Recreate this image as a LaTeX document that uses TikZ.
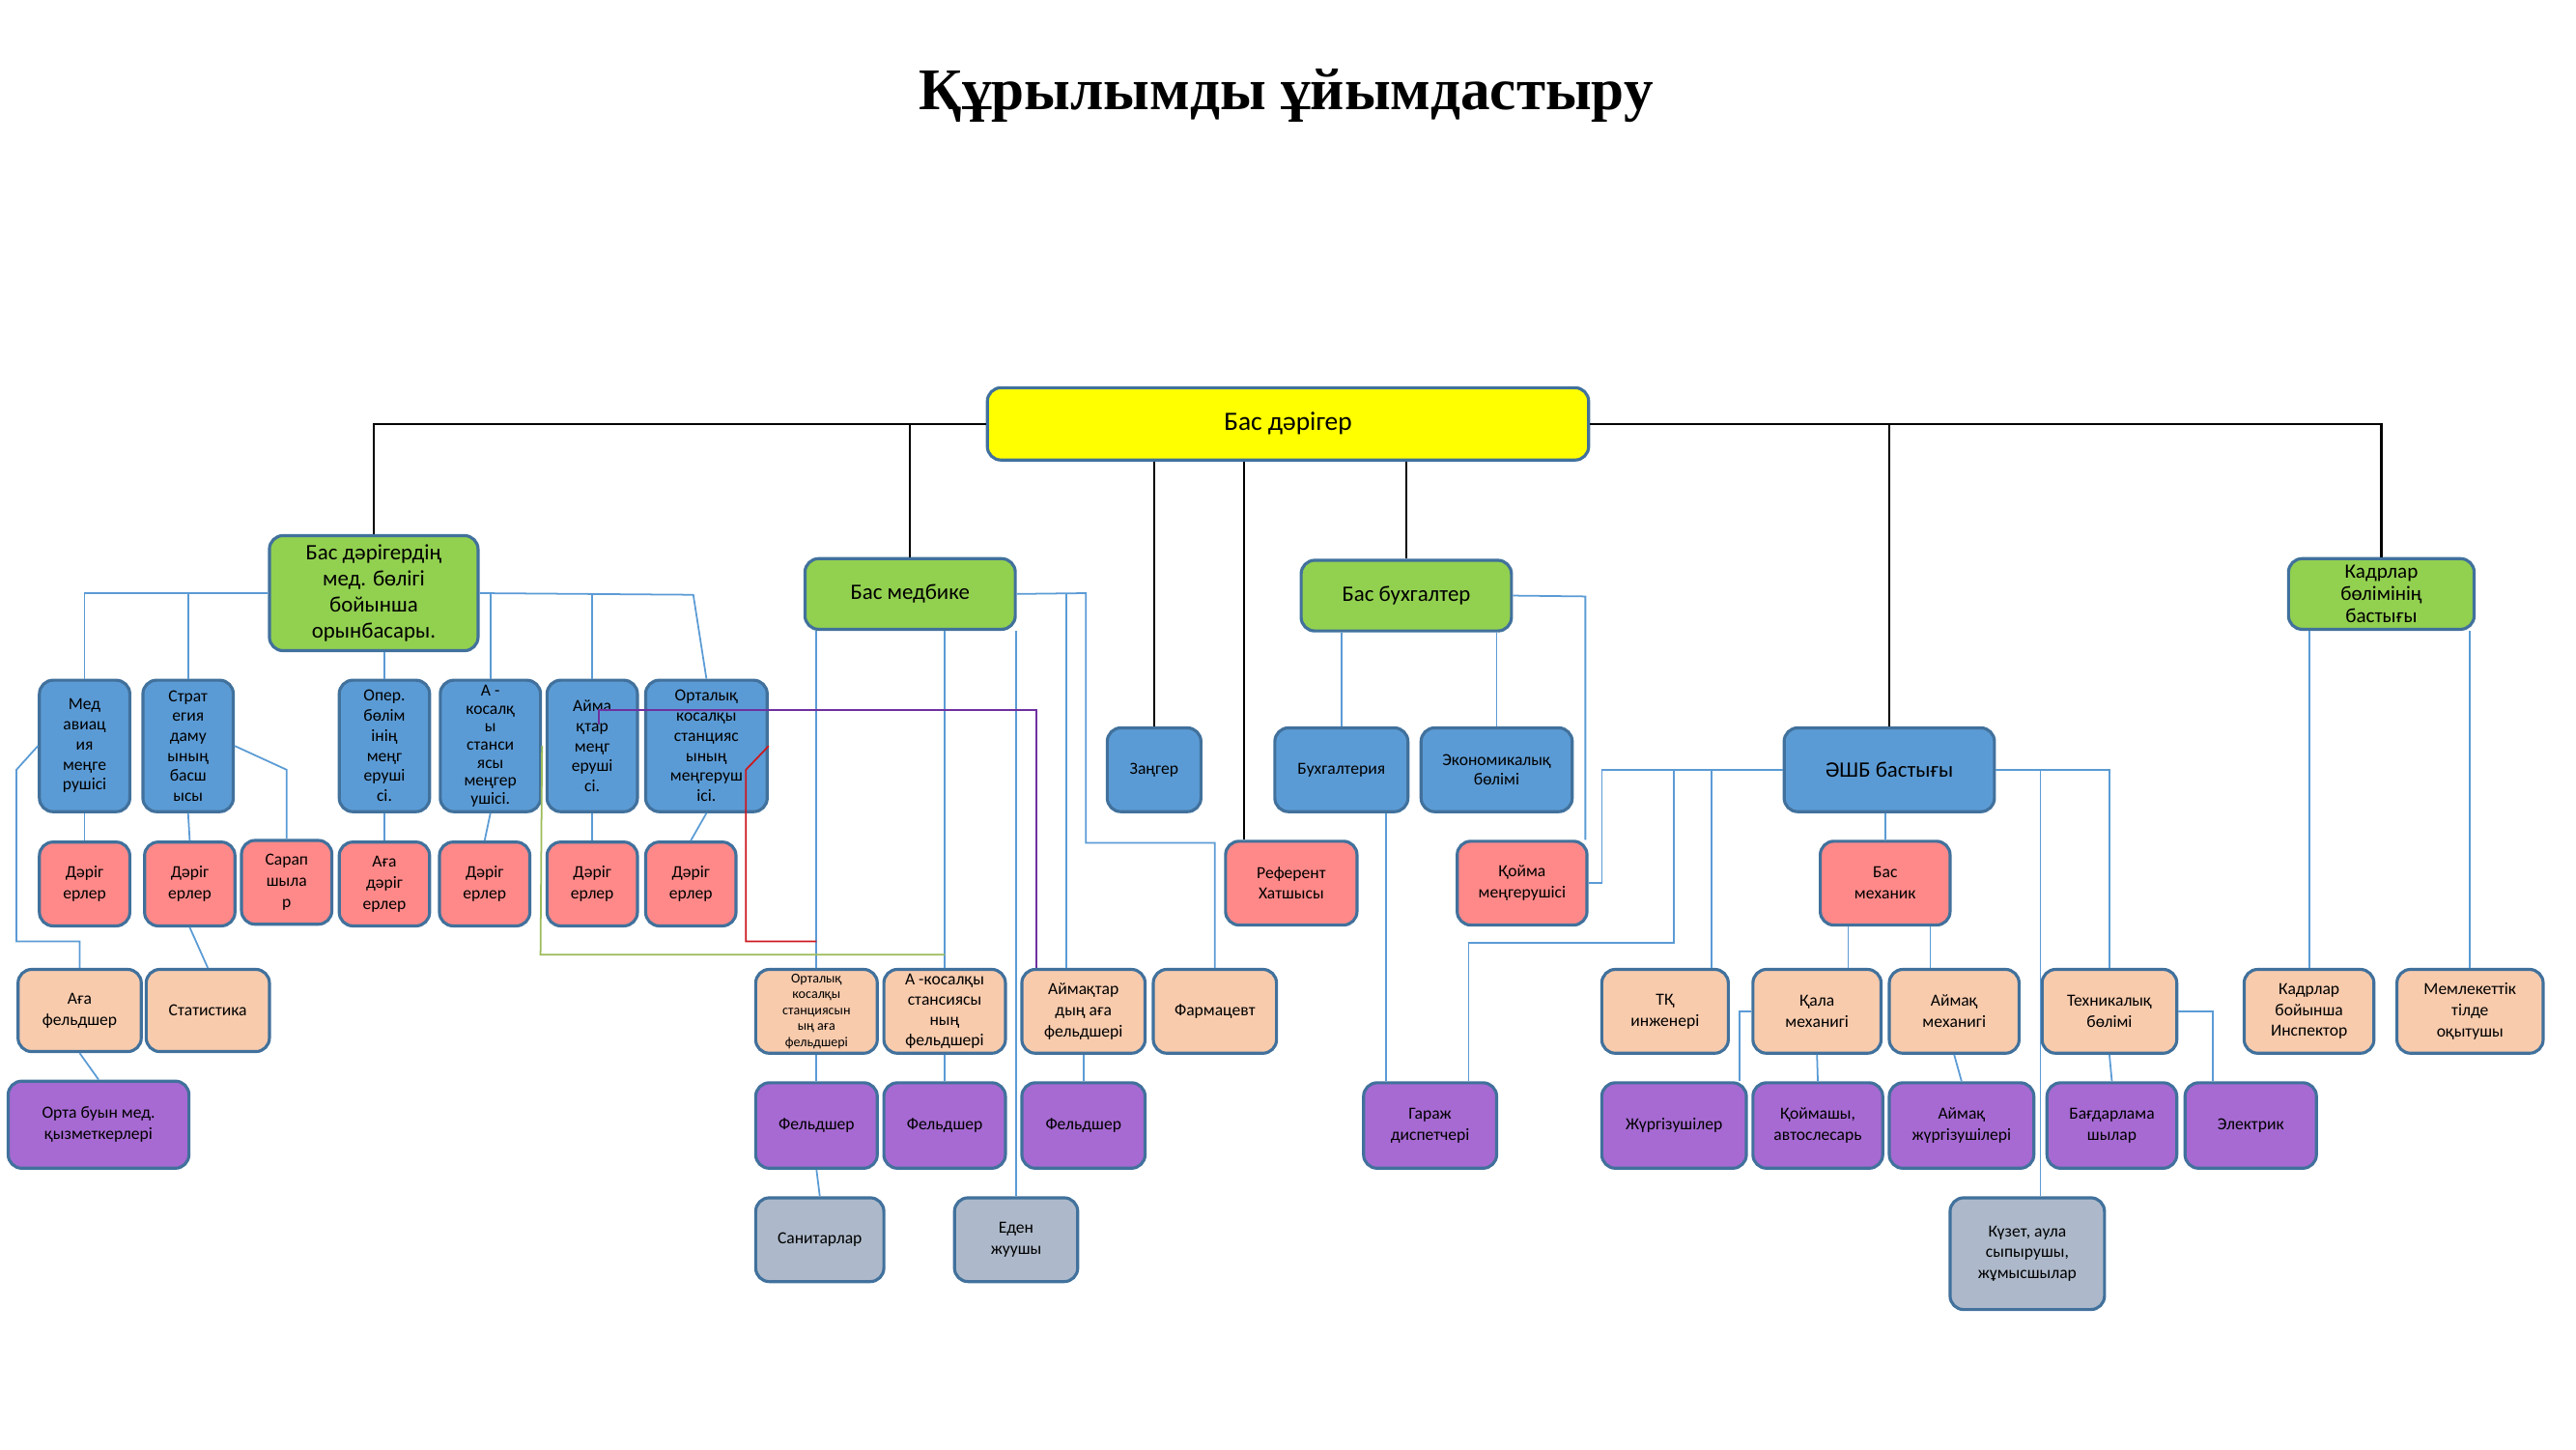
\documentclass[tikz,border=0pt]{standalone}
\usepackage{fontspec}
\setmainfont{Carlito}
\newfontfamily\titlefont{Liberation Serif}
\usetikzlibrary{positioning}
\definecolor{ChiefYellow}{RGB}{255,255,0}
\definecolor{HeadGreen}{RGB}{146,208,80}
\definecolor{UnitBlue}{RGB}{91,155,213}
\definecolor{StaffRed}{RGB}{255,137,137}
\definecolor{StaffPeach}{RGB}{248,203,173}
\definecolor{StaffPurple}{RGB}{166,106,210}
\definecolor{AuxGrey}{RGB}{173,185,202}
\definecolor{BoxEdge}{RGB}{65,113,156}
\definecolor{LinkBlue}{RGB}{91,155,213}
\definecolor{LinkPurple}{RGB}{112,48,160}
\definecolor{LinkRed}{RGB}{204,24,30}
\definecolor{LinkGreen}{RGB}{155,187,89}
\newcommand{\pxu}{0.01701cm}

\begin{document}
\begin{tikzpicture}[x=\pxu, y=-\pxu,
    orgbox/.style={draw=BoxEdge, line width=0.9pt, rounded corners=4pt, align=center, inner sep=0.5pt, text=black},
    boxsize/.style 2 args={minimum width=#1*\pxu, minimum height=#2*\pxu},
    chiefnode/.style={orgbox, fill=ChiefYellow, font=\fontsize{7.8}{9}\selectfont},
    headnode/.style={orgbox, fill=HeadGreen, font=\fontsize{6.5}{7.6}\selectfont},
    unitnode/.style={orgbox, fill=UnitBlue, font=\fontsize{5}{5.9}\selectfont},
    rednode/.style={orgbox, fill=StaffRed, font=\fontsize{5}{6.2}\selectfont},
    peachnode/.style={orgbox, fill=StaffPeach, font=\fontsize{5}{6.2}\selectfont},
    purplenode/.style={orgbox, fill=StaffPurple, font=\fontsize{5}{6.2}\selectfont},
    greynode/.style={orgbox, fill=AuxGrey, font=\fontsize{5}{6.2}\selectfont},
    chiefline/.style={draw=black, line width=0.6pt},
    link/.style={draw=LinkBlue, line width=0.5pt}]
    \useasboundingbox (0,0) rectangle (1568,882);

    % Title
    \node[font=\fontsize{17.4}{21}\selectfont\titlefont\bfseries] (title) at (783,58) {Құрылымды ұйымдастыру};

    % Top
    \node[chiefnode, boxsize={366}{44}] (chief) at (784,258) {Бас дәрігер};

    % Second level
    \node[headnode, boxsize={127}{70}] (zam) at (227.5,361) {Бас дәрігердің\\мед. бөлігі\\бойынша\\орынбасары.};
    \node[headnode, boxsize={128}{43}] (medb) at (554,361.5) {Бас медбике};
    \node[headnode, boxsize={128}{43}] (bbuh) at (856,362.5) {Бас бухгалтер};
    \node[headnode, boxsize={113}{43}, font=\fontsize{6}{6.6}\selectfont] (kadr) at (1449.5,361.5) {Кадрлар\\бөлімінің\\бастығы};

    % Medical units
    \node[unitnode, boxsize={55}{80}] (medav) at (51.5,454) {Мед\\авиац\\ия\\меңге\\рушісі};
    \node[unitnode, boxsize={55}{80}] (strat) at (114.5,454) {Страт\\егия\\даму\\ының\\басш\\ысы};
    \node[unitnode, boxsize={55}{80}] (oper) at (234,454) {Опер.\\бөлім\\інің\\меңг\\еруші\\сі.};
    \node[unitnode, boxsize={61}{80}, font=\fontsize{5}{5.3}\selectfont] (akos) at (298.5,454) {А -\\косалқ\\ы\\станси\\ясы\\меңгер\\ушісі.};
    \node[unitnode, boxsize={55}{80}] (aim) at (360.5,454) {Айма\\қтар\\меңг\\еруші\\сі.};
    \node[unitnode, boxsize={74}{80}] (orth) at (430,454) {Орталық\\косалқы\\станцияс\\ының\\меңгеруш\\ісі.};

    \node[rednode, boxsize={55}{51}] (dr1) at (51.5,538) {Дәріг\\ерлер};
    \node[rednode, boxsize={55}{51}] (dr2) at (115.5,538) {Дәріг\\ерлер};
    \node[rednode, boxsize={55}{51}] (sarap) at (174.5,537) {Сарап\\шыла\\р};
    \node[rednode, boxsize={55}{51}] (agadr) at (234,538) {Аға\\дәріг\\ерлер};
    \node[rednode, boxsize={55}{51}] (dr3) at (295,538) {Дәріг\\ерлер};
    \node[rednode, boxsize={55}{51}] (dr4) at (360.5,538) {Дәріг\\ерлер};
    \node[rednode, boxsize={55}{51}] (dr5) at (420.5,538) {Дәріг\\ерлер};

    \node[peachnode, boxsize={75}{50}] (agaf) at (48.5,615) {Аға\\фельдшер};
    \node[peachnode, boxsize={75}{50}] (stat) at (126.5,615) {Статистика};
    \node[purplenode, boxsize={110}{53}] (ortabuyn) at (60,684.5) {Орта буын мед.\\қызметкерлері};

    % Nursing
    \node[peachnode, boxsize={74}{51}, font=\fontsize{4}{4.7}\selectfont] (orfel) at (497,615.5) {Орталық\\косалқы\\станциясын\\ың аға\\фельдшері};
    \node[peachnode, boxsize={74}{51}, font=\fontsize{5}{5.9}\selectfont] (akfel) at (575,615.5) {А -косалқы\\стансиясы\\ның\\фельдшері};
    \node[peachnode, boxsize={75}{51}] (aimfel) at (659.5,615.5) {Аймақтар\\дың аға\\фельдшері};
    \node[peachnode, boxsize={75}{51}] (farm) at (739.5,615.5) {Фармацевт};

    \node[purplenode, boxsize={74}{52}] (fel1) at (497,685) {Фельдшер};
    \node[purplenode, boxsize={74}{52}] (fel2) at (575,685) {Фельдшер};
    \node[purplenode, boxsize={75}{52}] (fel3) at (659.5,685) {Фельдшер};

    \node[greynode, boxsize={78}{51}] (sanit) at (499,754.5) {Санитарлар};
    \node[greynode, boxsize={75}{51}] (eden) at (618.5,754.5) {Еден\\жуушы};

    % Direct subordinates and accounting
    \node[unitnode, boxsize={57}{51}] (zang) at (702.5,468.5) {Заңгер};
    \node[rednode, boxsize={80}{51}] (ref) at (786,537.5) {Референт\\Хатшысы};
    \node[unitnode, boxsize={81}{51}] (buhg) at (816.5,468.5) {Бухгалтерия};
    \node[unitnode, boxsize={92}{51}] (econ) at (911,468.5) {Экономикалық\\бөлімі};
    \node[rednode, boxsize={79}{51}] (qoima) at (926.5,537.5) {Қойма\\меңгерушісі};

    % Economic service
    \node[unitnode, boxsize={128}{51}, font=\fontsize{6.5}{7.6}\selectfont] (ashb) at (1150,468.5) {ӘШБ бастығы};
    \node[rednode, boxsize={79}{51}] (basmex) at (1147.5,537.5) {Бас\\механик};

    \node[peachnode, boxsize={77}{51}] (tq) at (1013.5,615.5) {ТҚ\\инженері};
    \node[peachnode, boxsize={78}{51}] (qala) at (1106,615.5) {Қала\\механигі};
    \node[peachnode, boxsize={79}{51}] (aimmex) at (1189.5,615.5) {Аймақ\\механигі};
    \node[peachnode, boxsize={82}{51}] (tex) at (1284,615.5) {Техникалық\\бөлімі};
    \node[peachnode, boxsize={79}{51}] (ins) at (1405.5,615.5) {Кадрлар\\бойынша\\Инспектор};
    \node[peachnode, boxsize={89}{51}] (mem) at (1503.5,615.5) {Мемлекеттік\\тілде\\оқытушы};

    \node[purplenode, boxsize={81}{52}] (garaj) at (870.5,685) {Гараж\\диспетчері};
    \node[purplenode, boxsize={88}{52}] (jurg) at (1019,685) {Жүргізушілер};
    \node[purplenode, boxsize={79}{52}] (qoimashy) at (1106.5,685) {Қоймашы,\\автослесарь};
    \node[purplenode, boxsize={88}{52}] (aimjurg) at (1194,685) {Аймақ\\жүргізушілері};
    \node[purplenode, boxsize={79}{52}] (bagd) at (1285.5,685) {Бағдарлама\\шылар};
    \node[purplenode, boxsize={80}{52}] (elek) at (1370,685) {Электрик};

    \node[greynode, boxsize={94}{68}] (kuzet) at (1234,763) {Күзет, аула\\сыпырушы,\\жұмысшылар};

    % Bends
    \coordinate (refTop) at ([xshift=-29*\pxu]ref.north);
    \coordinate (zamBend) at (422,362);
    \coordinate (stratBend) at (174.5,468.5);
    \coordinate (medavBend) at (10,468.5);
    \coordinate (agafBend) at (10,573);
    \coordinate (medbBend) at (661,361);
    \coordinate (farmBend) at (661,513);
    \coordinate (aimfelTop) at ([xshift=-10.5*\pxu]aimfel.north);
    \coordinate (aimTick) at (364.5,441);
    \coordinate (purpleTurn) at (364.5,432);
    \coordinate (aimfelPurple) at ([xshift=-28.5*\pxu]aimfel.north);
    \coordinate (redBend) at (454,468.5);
    \coordinate (redDown) at (454,573);
    \coordinate (greenDown) at (329,581);
    \coordinate (bbuhBend) at (965,363);
    \coordinate (garajLeft) at ([xshift=-27*\pxu]garaj.north);
    \coordinate (garajRight) at ([xshift=23.5*\pxu]garaj.north);
    \coordinate (qoimaJoin) at (975,537.5);
    \coordinate (garajJoin) at (1019,574);
    \coordinate (tqTop) at ([xshift=28.5*\pxu]tq.north);
    \coordinate (qalaTop) at ([xshift=19*\pxu]qala.north);
    \coordinate (aimmexTop) at ([xshift=-14.5*\pxu]aimmex.north);
    \coordinate (kuzetTop) at ([xshift=8*\pxu]kuzet.north);
    \coordinate (jurgTop) at ([xshift=40*\pxu]jurg.north);
    \coordinate (elekTop) at ([xshift=-23*\pxu]elek.north);

    % Black lines from the top
    \draw[chiefline] (chief.west) -| (zam.north);
    \draw[chiefline] (chief.west -| medb.north) -- (medb.north);
    \draw[chiefline] (zang.north |- chief.south) -- (zang.north);
    \draw[chiefline] (refTop |- chief.south) -- (refTop);
    \draw[chiefline] (bbuh.north |- chief.south) -- (bbuh.north);
    \draw[chiefline] (chief.east) -| (kadr.north);
    \draw[chiefline] (ashb.north |- chief.east) -- (ashb.north);

    % Medical part
    \draw[link] (zam.west) -| (medav.north);
    \draw[link] (strat.north |- zam.west) -- (strat.north);
    \draw[link] (zam.south -| oper.north) -- (oper.north);
    \draw[link] (zam.east) -- (zamBend) -- (orth.north);
    \draw[link] (akos.north |- zam.east) -- (akos.north);
    \draw[link] (aim.north |- zam.east) -- (aim.north);
    \draw[link] (medav.south) -- (dr1.north);
    \draw[link] (strat.south) -- (dr2.north);
    \draw[link] (strat.east) -- (stratBend) -- (sarap.north);
    \draw[link] (oper.south) -- (agadr.north);
    \draw[link] (akos.south) -- (dr3.north);
    \draw[link] (aim.south) -- (dr4.north);
    \draw[link] (orth.south) -- (dr5.north);
    \draw[link] (medav.west) -- (medavBend) -- (agafBend) -| (agaf.north);
    \draw[link] (dr2.south) -- (stat.north);
    \draw[link] (agaf.south) -- (ortabuyn.north);

    % Nursing part
    \draw[link] (medb.south -| orfel.north) -- (orfel.north);
    \draw[link] (medb.south -| akfel.north) -- (akfel.north);
    \draw[link] (medb.south -| eden.north) -- (eden.north);
    \draw[link] (medb.east) -- (medbBend) -- (farmBend) -| (farm.north);
    \draw[link] (aimfelTop |- medb.east) -- (aimfelTop);
    \draw[link] (orfel.south) -- (fel1.north);
    \draw[link] (akfel.south) -- (fel2.north);
    \draw[link] (aimfel.south) -- (fel3.north);
    \draw[link] (fel1.south) -- (sanit.north);
    \draw[LinkPurple, line width=0.5pt] (aimTick) -- (purpleTurn) -| (aimfelPurple);
    \draw[LinkRed, line width=0.5pt] (orth.east) -- (redBend) -- (redDown) -- (redDown -| orfel.north);
    \draw[LinkGreen, line width=0.5pt] (akos.east) -- (greenDown) -- (greenDown -| akfel.north);

    % Accounting
    \draw[link] (bbuh.south -| buhg.north) -- (buhg.north);
    \draw[link] (bbuh.south -| econ.north) -- (econ.north);
    \draw[link] (bbuh.east) -- (bbuhBend) -- (bbuhBend |- qoima.north);
    \draw[link] (garajLeft |- buhg.south) -- (garajLeft);

    % Economic service
    \draw[link] (ashb.west) -| (qoimaJoin) -- (qoima.east);
    \draw[link] (garajJoin |- ashb.west) -- (garajJoin) -| (garajRight);
    \draw[link] (tqTop |- ashb.west) -- (tqTop);
    \draw[link] (ashb.south -| basmex.north) -- (basmex.north);
    \draw[link] (qalaTop |- basmex.south) -- (qalaTop);
    \draw[link] (aimmexTop |- basmex.south) -- (aimmexTop);
    \draw[link] (ashb.east) -| (tex.north);
    \draw[link] (kuzetTop |- ashb.east) -- (kuzetTop);
    \draw[link] (qala.west) -| (jurgTop);
    \draw[link] (qala.south) -- (qoimashy.north);
    \draw[link] (aimmex.south) -- (aimjurg.north);
    \draw[link] (tex.south) -- (bagd.north);
    \draw[link] (tex.east) -| (elekTop);

    % Personnel
    \draw[link] (ins.north |- kadr.south) -- (ins.north);
    \draw[link] (mem.north |- kadr.south) -- (mem.north);
\end{tikzpicture}
\end{document}
